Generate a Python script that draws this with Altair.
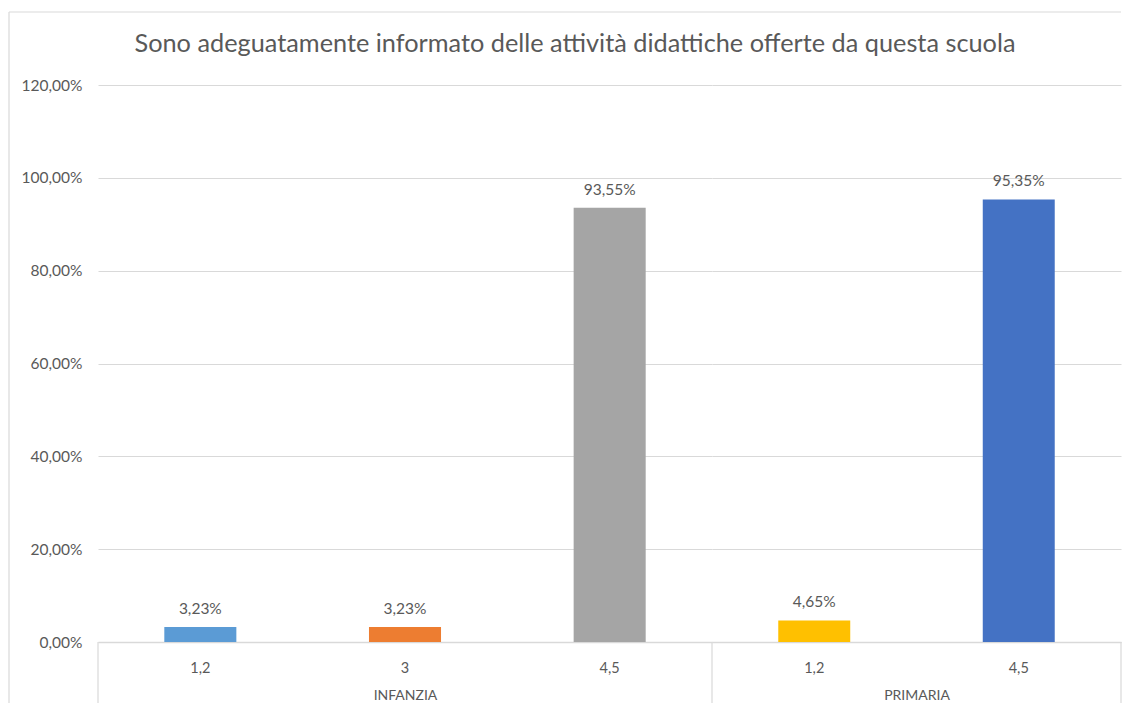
import altair as alt
import pandas as pd

# ---- data ----
groups = ["INFANZIA", "INFANZIA", "INFANZIA", "PRIMARIA", "PRIMARIA"]
cats = ["1,2", "3", "4,5", "1,2", "4,5"]
values = [3.23, 3.23, 93.55, 4.65, 95.35]
bar_colors = ["#5B9BD5", "#ED7D31", "#A5A5A5", "#FFC000", "#4472C4"]
y_ticks = [0, 20, 40, 60, 80, 100, 120]
title_text = "Sono adeguatamente informato delle attività didattiche offerte da questa scuola"

df = pd.DataFrame({"group": groups, "cat": cats, "value": values})
df["key"] = df["group"] + " " + df["cat"]
keys = list(df["key"])

H = 557
TXT = "#595959"
GRID = "#D9D9D9"
FONT = "Lato"
one = pd.DataFrame({"a": [0]})

pct_expr = "replace(format(datum.value, '.2f'), '.', ',') + '%'"


def panel(g, w, first):
    sub = df[df["group"] == g]
    base = alt.Chart(sub)
    x = alt.X(
        "cat:N",
        sort=list(sub["cat"]),
        scale=alt.Scale(paddingInner=0.648, paddingOuter=0.324),
        axis=alt.Axis(
            title=g, labelAngle=0, ticks=False, tickSize=0,
            domainColor=GRID, domainWidth=1.5,
            labelColor=TXT, labelFont=FONT, labelFontSize=14.5, labelPadding=19,
            titleColor=TXT, titleFont=FONT, titleFontSize=14,
            titleFontWeight="normal", titlePadding=13.5,
        ),
    )
    y = alt.Y(
        "value:Q",
        scale=alt.Scale(domain=[0, 120]),
        axis=alt.Axis(
            values=y_ticks, labelExpr=pct_expr, title=None, domain=False,
            ticks=False, tickSize=0, gridColor=GRID, labels=first,
            labelColor=TXT, labelFont=FONT, labelFontSize=15.5, labelPadding=16,
        ),
    )
    bars = base.mark_bar().encode(
        x=x, y=y,
        color=alt.Color("key:N", scale=alt.Scale(domain=keys, range=bar_colors), legend=None),
    )
    labels = base.transform_calculate(
        lab="replace(format(datum.value, '.2f'), '.', ',') + '%'"
    ).mark_text(dy=-13, baseline="alphabetic", font=FONT, fontSize=15.5, color=TXT).encode(
        x=alt.X("cat:N", sort=list(sub["cat"])), y="value:Q", text="lab:N"
    )
    layers = [bars, labels]
    seps = [0, w] if not first else [0]
    for sx in seps:
        layers.append(
            alt.Chart(one).mark_rule(color=GRID, strokeWidth=1.2).encode(
                x=alt.value(sx), y=alt.value(H), y2=alt.value(618)
            )
        )
    if first:
        # outer chart frame (left and top edges)
        layers.append(
            alt.Chart(one).mark_rule(color=GRID, strokeWidth=1.2).encode(
                x=alt.value(-89), y=alt.value(-73), y2=alt.value(618)
            )
        )
        layers.append(
            alt.Chart(one).mark_rule(color=GRID, strokeWidth=1.2).encode(
                x=alt.value(-89), x2=alt.value(1023), y=alt.value(-73)
            )
        )
    return alt.layer(*layers).properties(width=w, height=H)


chart = alt.hconcat(
    panel("INFANZIA", 614, True),
    panel("PRIMARIA", 409, False),
    spacing=0,
    bounds="flush",
).properties(
    title=alt.TitleParams(
        title_text, font=FONT, fontSize=25.3, color=TXT, fontWeight="normal",
        anchor="middle", dx=10, offset=-66, baseline="alphabetic",
    ),
    padding={"left": 0, "top": 3, "right": 0, "bottom": 0},
    background="white",
).configure_view(stroke=None)

chart.save("out.html", embed_options={"renderer": "svg", "actions": False})
